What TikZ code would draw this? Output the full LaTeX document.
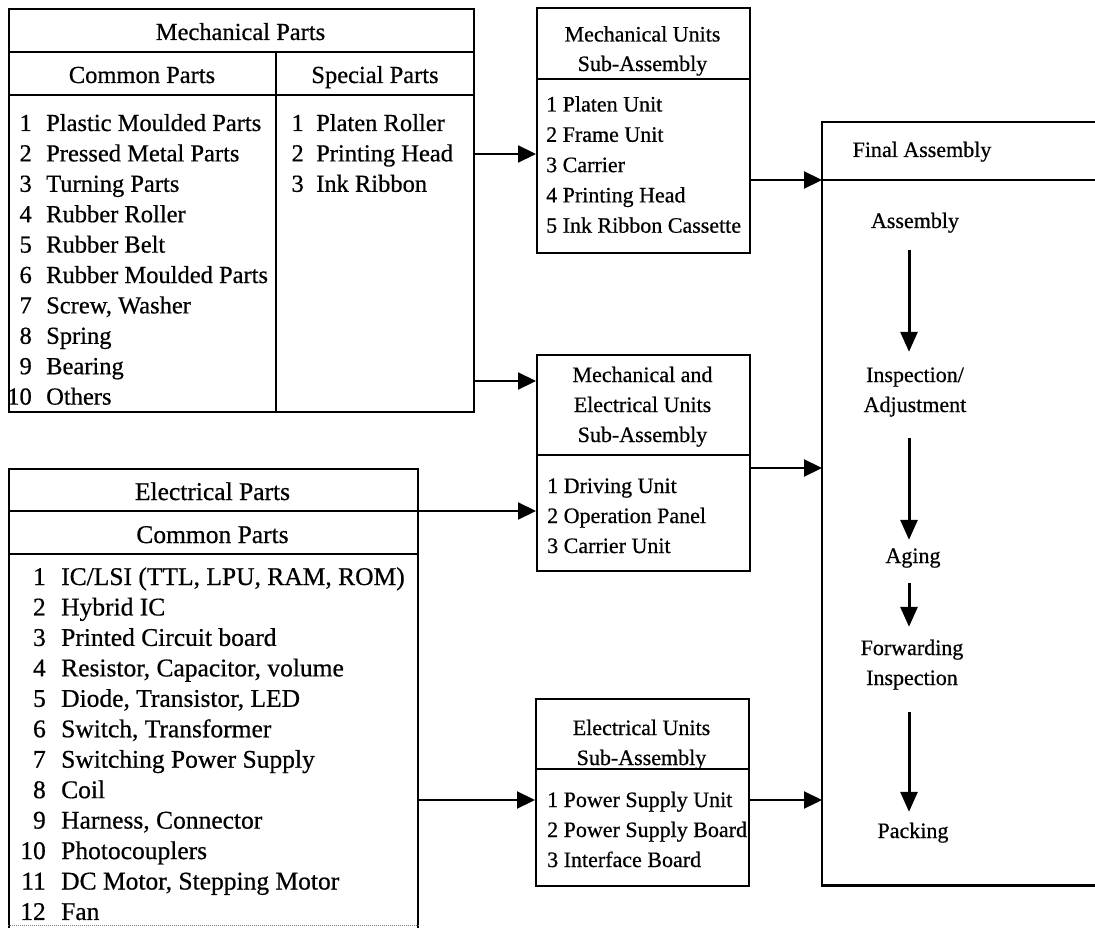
\documentclass[tikz,border=0pt]{standalone}
\usepackage{fontspec}
\setmainfont{Liberation Serif}[FakeBold=0.6]
\usetikzlibrary{arrows.meta}

\begin{document}
\begin{tikzpicture}[x=1pt,y=-1pt,
  frame/.style={draw, line width=2.4pt, inner sep=0pt, anchor=north west},
  rule/.style={line width=2.2pt},
  conn/.style={line width=2.2pt, -{Triangle[length=18pt,width=17pt]}},
  flow/.style={line width=3pt, -{Triangle[length=20pt,width=17pt]}},
  txtA/.style={inner sep=0pt, font=\fontsize{24.5}{30}\selectfont},
  txtB/.style={inner sep=0pt, font=\fontsize{25.5}{30}\selectfont},
  txtC/.style={inner sep=0pt, font=\fontsize{22}{30}\selectfont},
  fstep/.style={txtC, anchor=base, text height=15pt, text depth=5pt},
]
\useasboundingbox (0,0) rectangle (1095,928);
\fill[white] (0,0) rectangle (1095,928);

% ---------------- Mechanical Parts ----------------
\node[frame, minimum width=465pt, minimum height=403pt] (mp) at (8,8) {};
\coordinate (mpsplit) at (276,52);
\draw[rule] (mp.west |- 0,52) -- (mp.east |- 0,52);
\draw[rule] (mp.west |- 0,95) -- (mp.east |- 0,95);
\draw[rule] (mpsplit) -- (mpsplit |- mp.south);
\node[txtA, anchor=base] (mptitle) at (240.5,40) {Mechanical Parts};
\node[txtA, anchor=base] (mpcommon) at (142,83) {Common Parts};
\node[txtA, anchor=base] (mpspecial) at (375,83) {Special Parts};
\foreach \t [count=\i] in {Plastic Moulded Parts, Pressed Metal Parts, Turning Parts,
    Rubber Roller, Rubber Belt, Rubber Moulded Parts, {Screw, Washer}, Spring,
    Bearing, Others}{
  \node[txtA, anchor=base east] (mpn\i) at (32,{131+30.4*(\i-1)}) {\i};
  \node[txtA, anchor=base west] (mpi\i) at (46,{131+30.4*(\i-1)}) {\t};
}
\foreach \t [count=\i] in {Platen Roller, Printing Head, Ink Ribbon}{
  \node[txtA, anchor=base east] (spn\i) at (304,{131+30.4*(\i-1)}) {\i};
  \node[txtA, anchor=base west] (spi\i) at (316,{131+30.4*(\i-1)}) {\t};
}

% ---------------- Electrical Parts ----------------
\node[frame, minimum width=409pt, minimum height=480pt] (ep) at (8,468) {};
\draw[rule] (ep.west |- 0,511) -- (ep.east |- 0,511);
\draw[rule] (ep.west |- 0,554) -- (ep.east |- 0,554);
\draw[gray, densely dotted, line width=1pt] (ep.west |- 0,925) -- (ep.east |- 0,925);
\node[txtB, anchor=base] (eptitle) at (212.5,500) {Electrical Parts};
\node[txtB, anchor=base] (epcommon) at (212.5,543) {Common Parts};
\foreach \t [count=\i] in {{IC/LSI (TTL, LPU, RAM, ROM)}, Hybrid IC, Printed Circuit board,
    {Resistor, Capacitor, volume}, {Diode, Transistor, LED}, {Switch, Transformer},
    Switching Power Supply, Coil, {Harness, Connector}, Photocouplers,
    {DC Motor, Stepping Motor}, Fan}{
  \node[txtB, anchor=base east] (epn\i) at (46,{585+30.45*(\i-1)}) {\i};
  \node[txtB, anchor=base west] (epi\i) at (61,{585+30.45*(\i-1)}) {\t};
}

% ---------------- Mechanical Units Sub-Assembly ----------------
\node[frame, minimum width=213pt, minimum height=245pt] (mu) at (536,7) {};
\draw[rule] (mu.west |- 0,79) -- (mu.east |- 0,79);
\node[txtC, anchor=base] (mut1) at (642.5,41.5) {Mechanical Units};
\node[txtC, anchor=base] (mut2) at (642.5,71) {Sub-Assembly};
\foreach \t [count=\i] in {Platen Unit, Frame Unit, Carrier, Printing Head, Ink Ribbon Cassette}{
  \node[txtC, anchor=base west] (mui\i) at (546,{111.5+30.3*(\i-1)}) {\i\ \t};
}

% ---------------- Mechanical and Electrical Units Sub-Assembly ----------------
\node[frame, minimum width=213pt, minimum height=216pt] (me) at (536,354) {};
\draw[rule] (me.west |- 0,455) -- (me.east |- 0,455);
\node[txtC, anchor=base] (met1) at (642.5,382) {Mechanical and};
\node[txtC, anchor=base] (met2) at (642.5,412) {Electrical Units};
\node[txtC, anchor=base] (met3) at (642.5,442) {Sub-Assembly};
\foreach \t [count=\i] in {Driving Unit, Operation Panel, Carrier Unit}{
  \node[txtC, anchor=base west] (mei\i) at (547,{493+30*(\i-1)}) {\i\ \t};
}

% ---------------- Electrical Units Sub-Assembly ----------------
\node[frame, minimum width=213pt, minimum height=187pt] (eu) at (535,698) {};
\draw[rule] (eu.west |- 0,769) -- (eu.east |- 0,769);
\node[txtC, anchor=base] (eut1) at (641.5,735) {Electrical Units};
\node[txtC, anchor=base] (eut2) at (641.5,765) {Sub-Assembly};
\foreach \t [count=\i] in {Power Supply Unit, Power Supply Board, Interface Board}{
  \node[txtC, anchor=base west] (eui\i) at (547,{807+30*(\i-1)}) {\i\ \t};
}

% ---------------- Final Assembly ----------------
\node[inner sep=0pt, anchor=north west, minimum width=273pt, minimum height=763pt] (fa) at (822,122) {};
\draw[line width=2.4pt] (fa.north east) -- (fa.north west) -- (fa.south west) -- (fa.south east);
\draw[rule] (fa.west |- 0,180) -- (fa.east |- 0,180);
\node[txtC, anchor=base] (fatitle) at (922,157) {Final Assembly};
\coordinate (fx) at (909,0);
\node[fstep] (s1) at (915,228) {Assembly};
\node[fstep] (s2a) at (915,382) {Inspection/};
\node[fstep] (s2b) at (915,412) {Adjustment};
\node[fstep] (s3) at (913,563) {Aging};
\node[fstep] (s4a) at (912,655) {Forwarding};
\node[fstep] (s4b) at (912,685) {Inspection};
\node[fstep] (s5) at (913,838) {Packing};
\draw[flow, shorten <=17pt, shorten >=15pt] (s1.south -| fx) -- (s2a.north -| fx);
\draw[flow, shorten <=21pt, shorten >=8pt] (s2b.south -| fx) -- (s3.north -| fx);
\draw[flow, shorten <=15pt, shorten >=13pt] (s3.south -| fx) -- (s4a.north -| fx);
\draw[flow, shorten <=22pt, shorten >=11pt] (s4b.south -| fx) -- (s5.north -| fx);

% ---------------- Connectors ----------------
\draw[conn] (mp.east |- 0,154) -- (mu.west |- 0,154);
\draw[conn] (mp.east |- 0,381) -- (me.west |- 0,381);
\draw[conn] (ep.east |- 0,511) -- (me.west |- 0,511);
\draw[conn] (ep.east |- 0,800) -- (eu.west |- 0,800);
\draw[conn] (mu.east |- 0,180) -- (fa.west |- 0,180);
\draw[conn] (me.east |- 0,468) -- (fa.west |- 0,468);
\draw[conn] (eu.east |- 0,800) -- (fa.west |- 0,800);
\end{tikzpicture}
\end{document}
